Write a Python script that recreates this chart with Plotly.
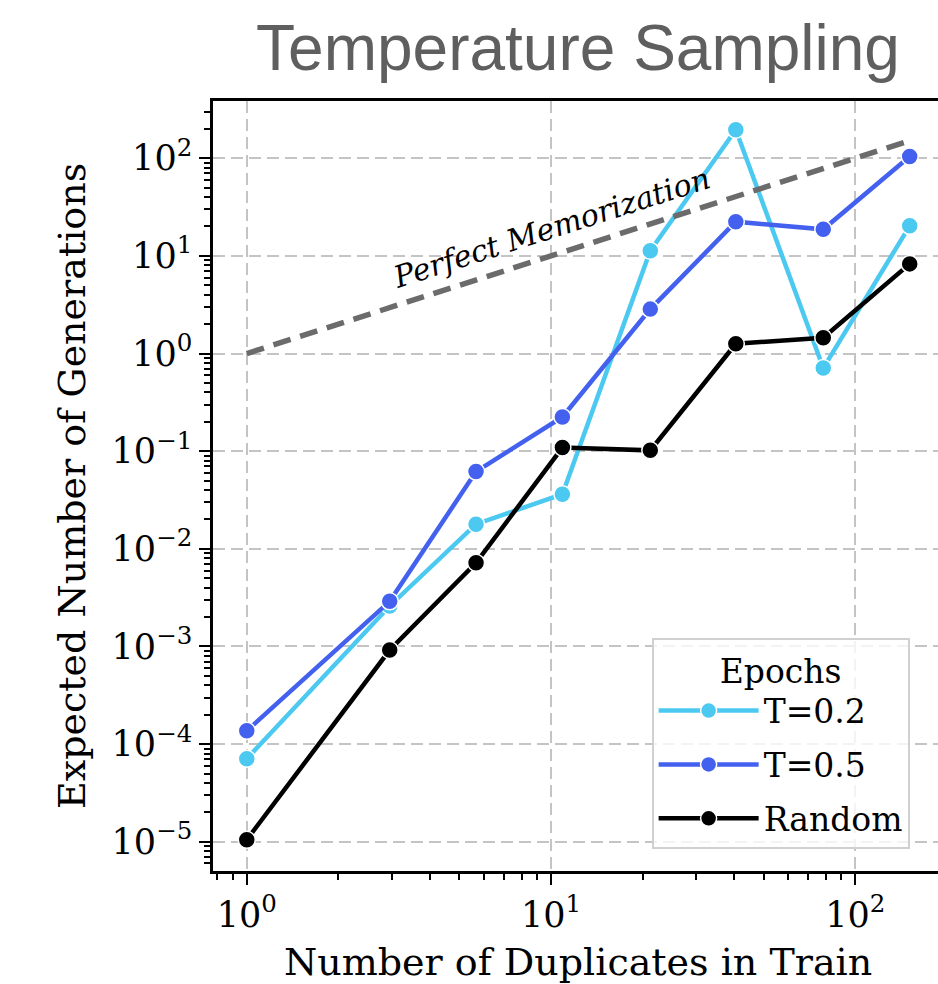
import math
import plotly.graph_objects as go

# ---- data ----
duplicates = [1, 2.95, 5.67, 10.9, 21.2, 40.5, 78.5, 151]
t02 = [7.1e-5, 2.6e-3, 0.0179, 0.0363, 11.3, 196, 0.71, 20.3]
t05 = [1.37e-4, 2.9e-3, 0.0618, 0.224, 2.85, 22.4, 18.7, 104]
random_vals = [1.05e-5, 9.2e-4, 7.2e-3, 0.109, 0.102, 1.26, 1.45, 8.28]
perfect_x = [1, 151]
perfect_y = [1, 151]

series_names = ["T=0.2", "T=0.5", "Random"]
series_colors = ["#4cc9f0", "#4361ee", "#000000"]
series_values = [t02, t05, random_vals]

x_major = [1, 10, 100]
x_major_text = ["10<sup>0</sup>", "10<sup>1</sup>", "10<sup>2</sup>"]
y_major = [1e-5, 1e-4, 1e-3, 1e-2, 1e-1, 1, 10, 100]
y_major_text = ["10<sup>\u22125</sup>", "10<sup>\u22124</sup>", "10<sup>\u22123</sup>",
                "10<sup>\u22122</sup>", "10<sup>\u22121</sup>", "10<sup>0</sup>",
                "10<sup>1</sup>", "10<sup>2</sup>"]

x_range = [-0.111, 2.272]
y_range = [-5.299, 2.586]

def minor_vals(lo, hi):
    vals = []
    for d in range(math.floor(lo) - 1, math.ceil(hi) + 1):
        for k in range(2, 10):
            v = k * 10 ** d
            if lo <= math.log10(v) <= hi:
                vals.append(v)
    return vals

SERIF = "DejaVu Serif"

fig = go.Figure()
for i, (name, color, vals) in enumerate(zip(series_names, series_colors, series_values)):
    fig.add_trace(go.Scatter(
        x=duplicates, y=vals, name=name, mode="lines+markers",
        line=dict(color=color, width=4.5),
        marker=dict(size=17, color=color, line=dict(color="white", width=1.5)),
        legendgroup=name,
    ))

fig.add_trace(go.Scatter(
    x=perfect_x, y=perfect_y, mode="lines", showlegend=False,
    line=dict(color="#6b6b6b", width=5.5, dash="18px,10px"),
    hoverinfo="skip",
))

grid_common = dict(showgrid=True, gridcolor="#c4c4c4", gridwidth=2, griddash="12px,6px")

fig.update_xaxes(
    type="log", range=x_range, tickvals=x_major, ticktext=x_major_text,
    ticks="outside", ticklen=11, tickwidth=2, tickcolor="black",
    showline=True, linecolor="black", linewidth=2.5, mirror=True,
    tickfont=dict(family=SERIF, size=35, color="black"),
    minor=dict(tickvals=minor_vals(*x_range), ticks="outside", ticklen=6,
               tickwidth=1.5, tickcolor="black", showgrid=False),
    zeroline=False, **grid_common,
)
fig.update_yaxes(
    type="log", range=y_range, tickvals=y_major, ticktext=y_major_text,
    ticks="outside", ticklen=11, tickwidth=2, tickcolor="black",
    showline=True, linecolor="black", linewidth=2.5, mirror=False,
    tickfont=dict(family=SERIF, size=35, color="black"),
    minor=dict(tickvals=minor_vals(*y_range), ticks="outside", ticklen=6,
               tickwidth=1.5, tickcolor="black", showgrid=False),
    zeroline=False, **grid_common,
)

fig.add_annotation(
    x=1.003, y=1.287, xref="x", yref="y", text="<i>Perfect Memorization</i>",
    showarrow=False, textangle=-17.8,
    font=dict(family=SERIF, size=30, color="black"),
)
fig.add_annotation(
    x=0.504, y=-0.1188, xref="paper", yref="paper", text="Number of Duplicates in Train",
    showarrow=False, xanchor="center", yanchor="middle",
    font=dict(family=SERIF, size=38, color="black"),
)
fig.add_annotation(
    x=-0.1945, y=0.5, xref="paper", yref="paper", text="Expected Number of Generations",
    showarrow=False, xanchor="center", yanchor="middle", textangle=-90,
    font=dict(family=SERIF, size=38, color="black"),
)

fig.update_layout(
    width=938, height=984,
    margin=dict(l=213, r=0, t=101, b=112.5, autoexpand=False),
    paper_bgcolor="white", plot_bgcolor="white",
    title=dict(text="Temperature Sampling", x=578 / 938, xanchor="center",
               y=1 - 48 / 984, yanchor="middle",
               font=dict(family="Liberation Sans", size=64, color="#5f5f5f")),
    legend=dict(
        x=0.605, y=0.303, xanchor="left", yanchor="top",
        bgcolor="rgba(255,255,255,0.8)", bordercolor="#d0d0d0", borderwidth=2,
        font=dict(family=SERIF, size=33, color="black"),
        title=dict(text="Epochs", side="top center",
                   font=dict(family=SERIF, size=33, color="black")),
        traceorder="grouped", tracegroupgap=8, itemwidth=100,
    ),
    showlegend=True,
)

fig.write_html("out.html")
